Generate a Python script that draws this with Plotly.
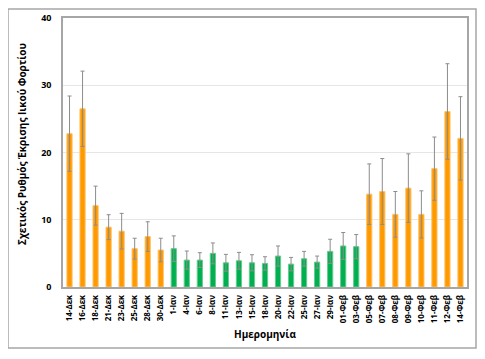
import plotly.graph_objects as go

categories = ["14-Δεκ","16-Δεκ","18-Δεκ","21-Δεκ","23-Δεκ","25-Δεκ","28-Δεκ","30-Δεκ",
              "1-Ιαν","4-Ιαν","6-Ιαν","8-Ιαν","11-Ιαν","13-Ιαν","15-Ιαν","18-Ιαν","20-Ιαν",
              "22-Ιαν","25-Ιαν","27-Ιαν","29-Ιαν","01-Φεβ","03-Φεβ",
              "05-Φεβ","07-Φεβ","08-Φεβ","09-Φεβ","10-Φεβ","11-Φεβ","12-Φεβ","14-Φεβ"]
values = [22.8, 26.5, 12.1, 8.9, 8.3, 5.7, 7.5, 5.5,
          5.7, 4.0, 4.0, 5.0, 3.6, 3.9, 3.6, 3.5, 4.6,
          3.4, 4.2, 3.7, 5.3, 6.1, 6.0,
          13.8, 14.2, 10.8, 14.7, 10.8, 17.6, 26.1, 22.1]
errors = [5.6, 5.6, 2.9, 1.85, 2.65, 1.55, 2.2, 1.75,
          1.9, 1.35, 1.1, 1.55, 1.25, 1.25, 1.2, 1.0, 1.5,
          1.0, 1.1, 0.9, 1.8, 2.0, 1.8,
          4.5, 4.9, 3.4, 5.1, 3.5, 4.7, 7.1, 6.2]
groups = ["o"]*8 + ["g"]*15 + ["o"]*8

ORANGE = "#FF9900"
GREEN = "#00B050"
colors = [ORANGE if g == "o" else GREEN for g in groups]
edge = ["#FFC266" if g == "o" else "#66CC8F" for g in groups]

fig = go.Figure()
fig.add_trace(go.Bar(
    x=categories, y=values,
    marker=dict(color=colors, line=dict(color=edge, width=1)),
    width=0.4,
    error_y=dict(type="data", array=errors, visible=True, color="#8C8C8C", thickness=1, width=2),
))

# page body has an 8px margin; work in window coords and shift
OFF = 8
W, H = 485 - OFF, 359 - OFF
L, R, T, B = 63 - OFF, 467 - OFF, 18 - OFF, 287 - OFF
pw, ph = R - L, B - T
def px(x): return (x - OFF - L) / pw
def py(y): return (B - (y - OFF)) / ph

fig.update_layout(
    width=W, height=H,
    margin=dict(l=L, r=W - R, t=T, b=H - B, autoexpand=False),
    paper_bgcolor="white", plot_bgcolor="white",
    font=dict(family="Open Sans, Liberation Sans, sans-serif", color="black"),
    showlegend=False,
    xaxis=dict(
        tickangle=-90, tickfont=dict(size=8, weight="bold"),
        showline=True, linecolor="#A6A6A6", linewidth=1.5, mirror=True,
        ticks="outside", ticklen=3, tickcolor="rgba(0,0,0,0)", showgrid=False, automargin=False,
    ),
    yaxis=dict(
        range=[0, 40], dtick=10, tickfont=dict(size=9, weight="bold"),
        showline=True, linecolor="#A6A6A6", linewidth=1.5, mirror=True,
        gridcolor="#E6E6E6", gridwidth=1, ticks="outside", ticklen=8, tickcolor="rgba(0,0,0,0)",
        zeroline=False, automargin=False,
    ),
    annotations=[
        dict(text="<b>Ημερομηνία</b>", xref="paper", yref="paper",
             x=px(265), y=py(334), showarrow=False, font=dict(size=10),
             xanchor="center", yanchor="middle"),
        dict(text="<b>Σχετικός Ρυθμός Έκρισης Ιικού Φορτίου</b>", xref="paper", yref="paper",
             x=px(22), y=py(144), showarrow=False, font=dict(size=10), textangle=-90,
             xanchor="center", yanchor="middle"),
    ],
    shapes=[dict(type="rect", xref="paper", yref="paper",
                 x0=px(8), x1=px(476), y0=py(348), y1=py(9),
                 line=dict(color="#A6A6A6", width=1.5), fillcolor="rgba(0,0,0,0)", layer="above")],
)

fig.write_html("out.html")
